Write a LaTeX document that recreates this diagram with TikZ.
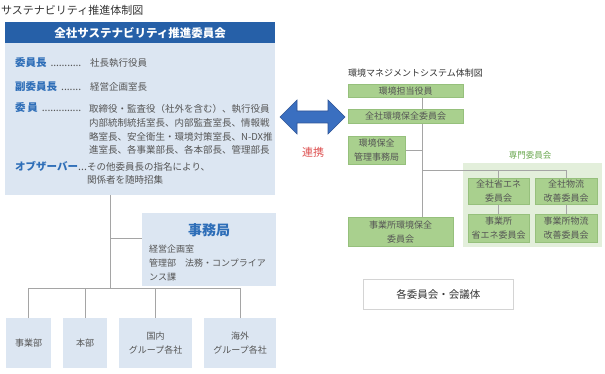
\documentclass[tikz,border=0pt]{standalone}
\usepackage{fontspec}
\setmainfont{Noto Sans CJK JP}
\usepackage{tikz}
\usetikzlibrary{positioning, backgrounds, calc}
\definecolor{headblue}{RGB}{38,96,168}
\definecolor{bodyblue}{RGB}{220,230,242}
\definecolor{roleblue}{RGB}{46,110,184}
\definecolor{txtgray}{RGB}{85,85,85}
\definecolor{linegray}{RGB}{165,165,165}
\definecolor{boxgreen}{RGB}{169,208,142}
\definecolor{grnedge}{RGB}{150,192,124}
\definecolor{zonegreen}{RGB}{227,239,219}
\definecolor{zonetext}{RGB}{106,168,79}
\definecolor{arrowblue}{RGB}{58,111,192}
\definecolor{arrowedge}{RGB}{47,85,151}
\definecolor{linkred}{RGB}{222,82,82}
\definecolor{framegray}{RGB}{212,212,212}
\newcommand{\roledots}[3]{\makebox[#1][l]{#3\hskip#2{\mdseries\color{txtgray}%
  \xleaders\hbox to 2.7pt{\hss.\hss}\hfill}}}

\begin{document}
\begin{tikzpicture}[
    x=1pt, y=-1pt,
    conn/.style  = {draw=linegray, line width=0.8pt},
    panel/.style = {anchor=north west, inner sep=0pt, fill=bodyblue},
    unit/.style  = {panel, align=center, text=txtgray,
                    font=\fontsize{9}{13.5}\selectfont},
    gbox/.style  = {anchor=north west, inner sep=0pt, fill=boxgreen,
                    draw=grnedge, line width=0.4pt, align=center,
                    text=txtgray, font=\fontsize{9}{14}\selectfont},
    role/.style  = {anchor=west, inner sep=0pt, text=roleblue,
                    font=\fontsize{10.5}{12}\selectfont\bfseries},
    duty/.style  = {inner sep=0pt, text=txtgray, align=left,
                    font=\fontsize{9.5}{13.6}\selectfont}
  ]
  \begin{scope}[on background layer]
    \fill[white] (0,0) rectangle (605,374);
  \end{scope}
  \useasboundingbox (0,0) rectangle (605,374);

  \node[anchor=west, inner sep=0pt, text=black!80,
        font=\fontsize{11}{13}\selectfont] (title) at (1,10)
        {サステナビリティ推進体制図};

  % sustainability committee
  \node[panel, minimum width=270pt, minimum height=173pt] (sust) at (5,22) {};
  \node[panel, fill=headblue, minimum width=270pt, minimum height=21pt,
        text=white, font=\fontsize{11.5}{13}\selectfont\bfseries]
        (head) at (5,22) {全社サステナビリティ推進委員会};

  \node[role] (chair)  at (15,63)  {\roledots{66pt}{4pt}{委員長}};
  \node[role] (vice)   at (15,87)  {\roledots{66pt}{4pt}{副委員長}};
  \node[role] (member) at (15,108) {\roledots{66pt}{4pt}{委\,員}};
  \node[role] (obs)    at (15,166) {\roledots{72pt}{0pt}{オブザーバー}};

  \node[duty, anchor=west] (chairv) at (90,63) {社長執行役員};
  \node[duty, anchor=west] (vicev)  at (90,87) {経営企画室長};
  \node[duty, anchor=north west] (memberv) at (89,104.5)
        {取締役・監査役（社外を含む）、執行役員\\
         内部統制統括室長、内部監査室長、情報戦\\
         略室長、安全衛生・環境対策室長、N-DX推\\
         進室長、各事業部長、各本部長、管理部長};
  \node[duty, anchor=north west] (obsv) at (87,162)
        {その他委員長の指名により、\\関係者を随時招集};

  \node[panel, minimum width=134pt, minimum height=73pt] (jimu) at (142,213) {};
  \node[inner sep=0pt, text=roleblue, font=\fontsize{14}{16}\selectfont\bfseries]
        (jimut) at (209,230) {事務局};
  \node[duty, anchor=north west, font=\fontsize{9}{14}\selectfont]
        (jimuv) at (149,244.5)
        {経営企画室\\管理部\quad 法務・コンプライア\\ンス課};

  \node[unit, minimum width=45pt, minimum height=50pt] (jigyobu) at (6,318)   {事業部};
  \node[unit, minimum width=44pt, minimum height=50pt] (honbu)   at (63,318)  {本部};
  \node[unit, minimum width=73pt, minimum height=50pt] (kokunai) at (119,318) {国内\\グループ各社};
  \node[unit, minimum width=72pt, minimum height=50pt] (kaigai)  at (204,318) {海外\\グループ各社};

  \coordinate (trunkL) at (110,0);
  \coordinate (busL)   at (0,288);
  \coordinate (jbr)    at (110,238);
  \draw[conn] (sust.south -| trunkL) -- (busL -| trunkL);
  \draw[conn] (jbr) -- (jbr -| jimu.west);
  \draw[conn] (jigyobu.north |- busL) -- (kaigai.north |- busL);
  \foreach \u in {jigyobu, honbu, kokunai, kaigai}
    \draw[conn] (\u.north) -- (\u.north |- busL);

  % link arrow
  \draw[fill=arrowblue, draw=arrowedge, line width=0.6pt, line join=miter]
    (280,117) -- (297,100) -- (297,111) -- (328,111) -- (328,100)
    -- (345,117) -- (328,134) -- (328,123) -- (297,123) -- (297,134) -- cycle;
  \node[inner sep=0pt, text=linkred, font=\fontsize{11}{13}\selectfont]
        (link) at (313,152) {連携};

  % environmental management system
  \node[anchor=west, inner sep=0pt, text=black!80,
        font=\fontsize{9}{11}\selectfont] (emstitle) at (348,73)
        {環境マネジメントシステム体制図};
  \node[gbox, minimum width=115pt, minimum height=13pt] (yakuin)  at (348,84)  {環境担当役員};
  \node[gbox, minimum width=115pt, minimum height=14pt] (zensha)  at (348,109) {全社環境保全委員会};
  \node[gbox, minimum width=57pt,  minimum height=28pt] (kanri)   at (348,136) {環境保全\\管理事務局};
  \node[gbox, minimum width=105pt, minimum height=29pt] (jgkan)   at (348,217) {事業所環境保全\\委員会};

  \node[inner sep=0pt, text=zonetext, font=\fontsize{8.5}{10}\selectfont]
        (senmont) at (530,155) {専門委員会};
  \node[gbox, minimum width=61pt, minimum height=26pt] (shouene)   at (468,178) {全社省エネ\\委員会};
  \node[gbox, minimum width=62pt, minimum height=26pt] (butsuryu)  at (535,178) {全社物流\\改善委員会};
  \node[gbox, minimum width=61pt, minimum height=28pt] (jshouene)  at (468,214) {事業所\\省エネ委員会};
  \node[gbox, minimum width=62pt, minimum height=28pt] (jbutsuryu) at (535,214) {事業所物流\\改善委員会};

  \coordinate (trunkR) at (422,0);
  \coordinate (busR)   at (0,170);
  \begin{scope}[on background layer]
    \fill[zonegreen] (463,163) rectangle (602,247);
    \draw[conn] (yakuin.south -| trunkR) -- (jgkan.north -| trunkR);
    \draw[conn] (kanri.east) -- (kanri.east -| trunkR);
    \draw[conn] (busR -| trunkR) -| (butsuryu.north);
    \draw[conn] (shouene.north) -- (shouene.north |- busR);
    \draw[conn] (shouene.south) -- (jshouene.north);
    \draw[conn] (butsuryu.south) -- (jbutsuryu.north);
  \end{scope}

  \node[anchor=north west, inner sep=0pt, draw=framegray, line width=0.8pt,
        minimum width=150pt, minimum height=30pt, text=black!80,
        font=\fontsize{10.5}{12}\selectfont] (bodies) at (363,279)
        {各委員会・会議体};
\end{tikzpicture}
\end{document}
